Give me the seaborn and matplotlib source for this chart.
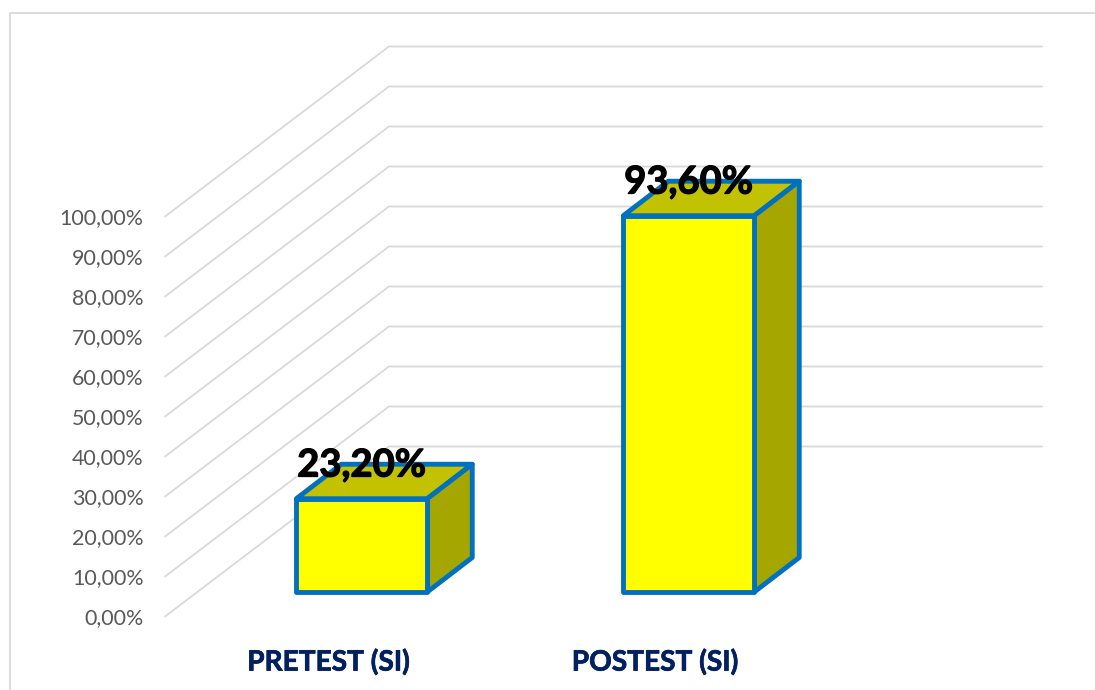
import matplotlib
matplotlib.use("Agg")
import matplotlib.pyplot as plt
import matplotlib.patheffects as pe
import pandas as pd
import seaborn as sns

categories = ["PRETEST (SI)", "POSTEST (SI)"]
values = [23.2, 93.6]
value_labels = ["23,20%", "93,60%"]
y_ticks = [0, 10, 20, 30, 40, 50, 60, 70, 80, 90, 100]
y_tick_labels = ["0,00%", "10,00%", "20,00%", "30,00%", "40,00%", "50,00%",
                 "60,00%", "70,00%", "80,00%", "90,00%", "100,00%"]

W, H = 1095, 690
GRID = "#D9D9D9"
BLUE = "#0070C0"

sns.set_theme(style="white")
plt.rcParams["font.family"] = ["Lato", "DejaVu Sans"]

fig = plt.figure(figsize=(W / 100, H / 100), dpi=100, facecolor="white")


def px_axes(left, top, right, bottom):
    return fig.add_axes([left / W, 1 - bottom / H, (right - left) / W, (bottom - top) / H])


# chart frame
fig.add_artist(plt.Line2D([9.5 / W, 9.5 / W, 1], [0, 1 - 13 / H, 1 - 13 / H],
                          transform=fig.transFigure, color=GRID, lw=1.3))

# walls: axis plane at the front of the floor
wall = px_axes(165, 216.5, 818, 616.5)
wall.set_xlim(-0.5, 1.5)
wall.set_ylim(0, 100)
wall.patch.set_visible(False)
sns.despine(ax=wall, left=True, bottom=True, top=True, right=True)
depth_x = 224 / 326.5
depth_v = 170 / 4
for v in y_ticks:
    wall.plot([-0.5, -0.5 + depth_x, 1.5 + depth_x], [v, v + depth_v, v + depth_v],
              color=GRID, lw=1.3, clip_on=False, solid_joinstyle="round")
wall.set_yticks(y_ticks, y_tick_labels, color="#595959", fontsize=15.4, va="center_baseline")
wall.set_xticks([0, 1], categories, color="#002060", fontsize=20.2, fontweight="bold")
wall.tick_params(axis="y", length=0, pad=15.5)
wall.tick_params(axis="x", length=0, pad=23)
for label in wall.get_xticklabels():
    label.set_path_effects([pe.withStroke(linewidth=0.5, foreground="#002060")])

# bars: plane set back into the floor
ax = px_axes(198.25, 190, 852.25, 592)
df = pd.DataFrame({"cat": categories, "val": values})
sns.barplot(data=df, x="cat", y="val", ax=ax, color="#FFFF00", saturation=1,
            width=131 / 327, edgecolor=BLUE, linewidth=3.5)
ax.set_xlim(-0.5, 1.5)
ax.set_ylim(0, 100)
ax.axis("off")
ax.patch.set_visible(False)

bar_dx = 45 / 327
bar_dv = 34.5 / 4.02
for bar, text in zip(ax.patches, value_labels):
    bar.set_joinstyle("round")
    bar.set_clip_on(False)
    bar.set_zorder(3)
    x0, x1 = bar.get_x(), bar.get_x() + bar.get_width()
    h = bar.get_height()
    ax.fill([x0, x0 + bar_dx, x1 + bar_dx, x1], [h, h + bar_dv, h + bar_dv, h],
            facecolor="#C2C200", edgecolor=BLUE, lw=3.5, joinstyle="round", zorder=2, clip_on=False)
    ax.fill([x1, x1 + bar_dx, x1 + bar_dx, x1], [0, bar_dv, h + bar_dv, h],
            facecolor="#A6A600", edgecolor=BLUE, lw=3.5, joinstyle="round", zorder=2, clip_on=False)
    ax.annotate(text, (bar.get_x() + bar.get_width() / 2, h), xytext=(0, 16),
                textcoords="offset points", ha="center", va="baseline",
                color="black", fontsize=27.5, fontweight="bold", zorder=5,
                path_effects=[pe.withStroke(linewidth=0.9, foreground="black")])

fig.savefig("out.png", dpi=100, facecolor="white")
